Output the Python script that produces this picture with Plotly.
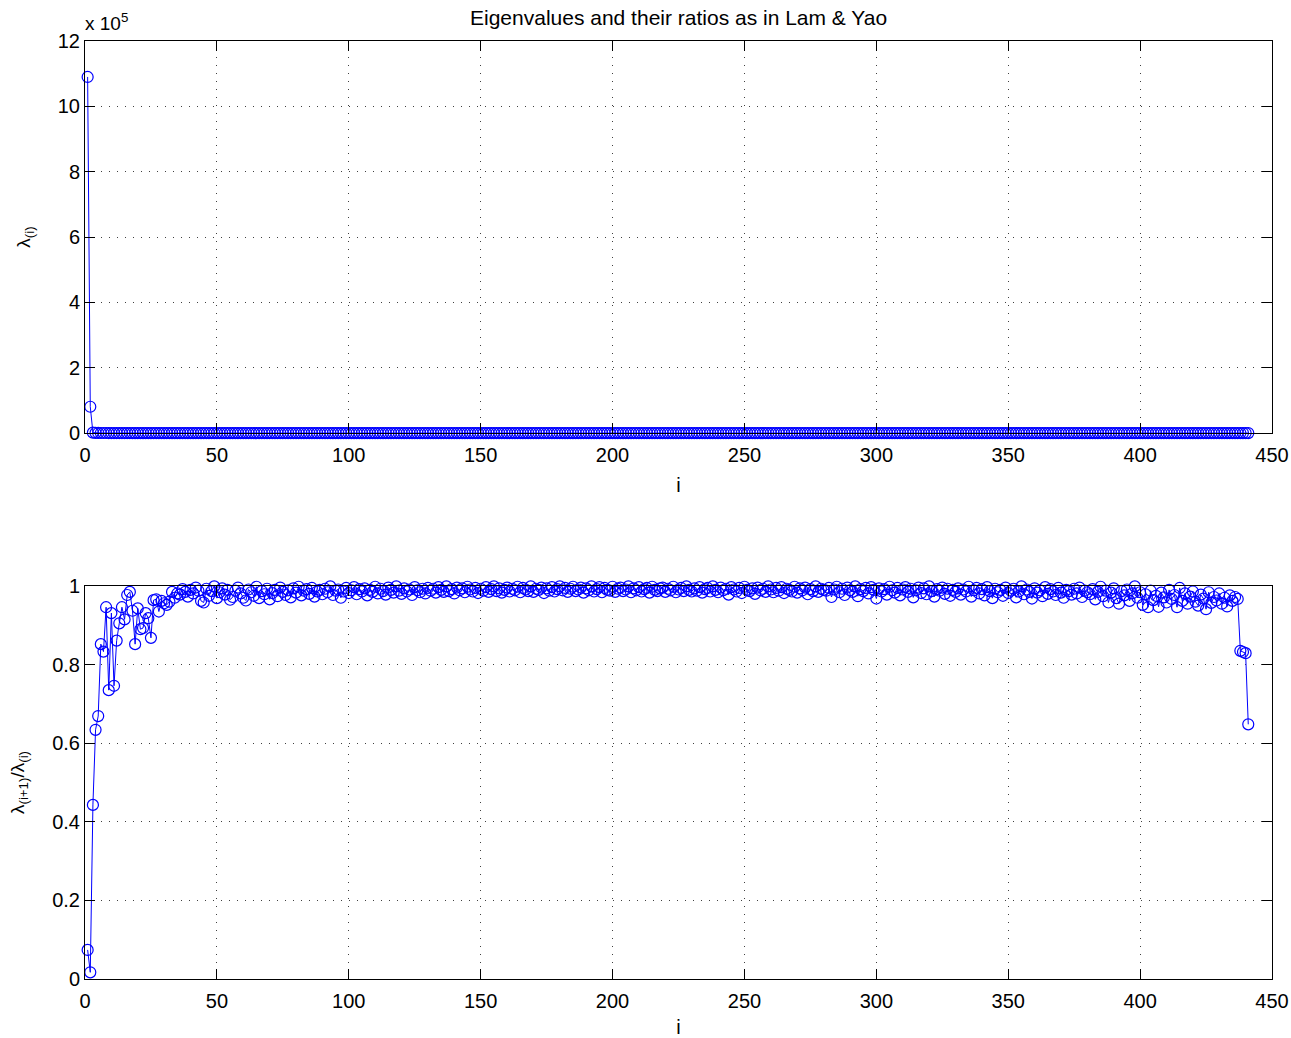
import plotly.graph_objects as go

# Largest eigenvalue and successive ratios lambda(i+1)/lambda(i)
lambda_first = 10.9e5

ratios = [
    # i = 1..35
    0.074, 0.017, 0.443, 0.634, 0.669, 0.852, 0.833, 0.946, 0.735, 0.931,
    0.746, 0.861, 0.905, 0.946, 0.915, 0.977, 0.985, 0.937, 0.852, 0.943,
    0.890, 0.893, 0.931, 0.918, 0.868, 0.964, 0.966, 0.935, 0.962, 0.956,
    0.952, 0.960, 0.985, 0.970, 0.981,
    # i = 36..60
    0.978, 0.992, 0.985, 0.973, 0.990, 0.981, 0.996, 0.988, 0.962, 0.958,
    0.993, 0.975, 0.987, 0.999, 0.969, 0.984, 0.994, 0.978, 0.990, 0.965,
    0.972, 0.988, 0.996, 0.981, 0.970,
    # i = 61..90
    0.963, 0.991, 0.984, 0.975, 0.998, 0.969, 0.987, 0.979, 0.993, 0.966,
    0.982, 0.990, 0.974, 0.996, 0.985, 0.977, 0.989, 0.971, 0.994, 0.983,
    0.998, 0.976, 0.988, 0.992, 0.980, 0.995, 0.973, 0.986, 0.990, 0.979,
    # i = 91..130
    0.993, 0.984, 0.999, 0.977, 0.988, 0.991, 0.970, 0.986, 0.995, 0.982,
    0.989, 0.997, 0.979, 0.992, 0.986, 0.994, 0.976, 0.990, 0.985, 0.998,
    0.981, 0.993, 0.987, 0.978, 0.996, 0.990, 0.983, 0.999, 0.988, 0.980,
    0.994, 0.986, 0.991, 0.977, 0.997, 0.989, 0.984, 0.993, 0.981, 0.995,
    # i = 131..180
    0.988, 0.993, 0.983, 0.997, 0.990, 0.985, 0.999, 0.987, 0.992, 0.981,
    0.996, 0.989, 0.994, 0.984, 0.998, 0.991, 0.986, 0.995, 0.982, 0.993,
    0.988, 0.997, 0.985, 0.992, 0.999, 0.987, 0.994, 0.983, 0.990, 0.996,
    0.986, 0.993, 0.989, 0.998, 0.984, 0.995, 0.991, 0.987, 0.999, 0.985,
    0.993, 0.990, 0.996, 0.982, 0.994, 0.988, 0.997, 0.986, 0.992, 0.999,
    # i = 181..230
    0.989, 0.995, 0.985, 0.993, 0.998, 0.987, 0.991, 0.996, 0.983, 0.994,
    0.989, 0.999, 0.986, 0.992, 0.997, 0.984, 0.995, 0.990, 0.988, 0.998,
    0.985, 0.993, 0.996, 0.987, 0.991, 0.999, 0.984, 0.994, 0.989, 0.997,
    0.986, 0.992, 0.995, 0.983, 0.998, 0.990, 0.987, 0.994, 0.996, 0.985,
    0.993, 0.989, 0.998, 0.984, 0.991, 0.995, 0.987, 0.999, 0.990, 0.986,
    # i = 231..280
    0.994, 0.988, 0.997, 0.983, 0.992, 0.995, 0.986, 0.999, 0.990, 0.984,
    0.996, 0.989, 0.993, 0.978, 0.997, 0.991, 0.986, 0.995, 0.982, 0.998,
    0.990, 0.987, 0.994, 0.980, 0.996, 0.989, 0.993, 0.985, 0.999, 0.991,
    0.984, 0.995, 0.988, 0.997, 0.982, 0.993, 0.990, 0.986, 0.998, 0.983,
    0.994, 0.989, 0.996, 0.979, 0.992, 0.987, 0.999, 0.985, 0.993, 0.990,
    # i = 281..330
    0.988, 0.995, 0.972, 0.991, 0.998, 0.984, 0.993, 0.977, 0.996, 0.989,
    0.985, 0.999, 0.974, 0.992, 0.987, 0.995, 0.981, 0.997, 0.990, 0.968,
    0.994, 0.986, 0.992, 0.978, 0.998, 0.989, 0.983, 0.995, 0.976, 0.991,
    0.997, 0.985, 0.993, 0.971, 0.989, 0.996, 0.982, 0.994, 0.979, 0.999,
    0.987, 0.973, 0.992, 0.988, 0.996, 0.980, 0.993, 0.975, 0.990, 0.985,
    # i = 331..380
    0.994, 0.978, 0.991, 0.986, 0.998, 0.973, 0.989, 0.995, 0.981, 0.992,
    0.976, 0.997, 0.987, 0.969, 0.993, 0.984, 0.990, 0.975, 0.996, 0.982,
    0.988, 0.993, 0.971, 0.986, 0.999, 0.979, 0.991, 0.985, 0.968, 0.994,
    0.983, 0.989, 0.974, 0.997, 0.980, 0.992, 0.986, 0.977, 0.995, 0.983,
    0.970, 0.990, 0.987, 0.978, 0.993, 0.981, 0.996, 0.972, 0.988, 0.984,
    # i = 381..437
    0.979, 0.992, 0.966, 0.985, 0.998, 0.974, 0.988, 0.958, 0.983, 0.994,
    0.969, 0.955, 0.987, 0.976, 0.991, 0.962, 0.981, 0.999, 0.970, 0.984,
    0.952, 0.979, 0.946, 0.988, 0.964, 0.975, 0.947, 0.983, 0.971, 0.958,
    0.990, 0.967, 0.977, 0.946, 0.995, 0.962, 0.981, 0.955, 0.973, 0.986,
    0.960, 0.950, 0.978, 0.968, 0.941, 0.984, 0.957, 0.972, 0.963, 0.981,
    0.955, 0.970, 0.948, 0.976, 0.962, 0.972, 0.967,
    # i = 438..441
    0.835, 0.832, 0.829, 0.648,
]

x_ticks = [0, 50, 100, 150, 200, 250, 300, 350, 400, 450]
y_ticks_top = [0, 2, 4, 6, 8, 10, 12]
y_ticks_bottom = [0, 0.2, 0.4, 0.6, 0.8, 1]

# Eigenvalues follow from the largest one and the successive ratios
eigenvalues = [lambda_first]
for r in ratios[:-1]:
    eigenvalues.append(eigenvalues[-1] * r)

idx_eig = list(range(1, len(eigenvalues) + 1))
idx_ratio = list(range(1, len(ratios) + 1))
scale = 1e5

FONT = "Liberation Sans, Arial, sans-serif"
BLUE = "rgb(0,0,255)"
marker_style = dict(symbol="circle-open", size=11, color=BLUE, line=dict(width=1.2, color=BLUE))

fig = go.Figure()
fig.add_trace(go.Scatter(
    x=idx_eig, y=[v / scale for v in eigenvalues], mode="lines+markers",
    line=dict(color=BLUE, width=1), marker=marker_style,
    xaxis="x", yaxis="y", showlegend=False, cliponaxis=False,
))
fig.add_trace(go.Scatter(
    x=idx_ratio, y=ratios, mode="lines+markers",
    line=dict(color=BLUE, width=1), marker=marker_style,
    xaxis="x2", yaxis="y2", showlegend=False, cliponaxis=False,
))

axis_common = dict(
    showline=True, linecolor="black", linewidth=1, mirror="ticks",
    ticks="inside", ticklen=10, tickcolor="black", tickwidth=1,
    showgrid=True, gridcolor="rgba(0,0,0,0.75)", gridwidth=1, griddash="1px,7px",
    zeroline=False, tickfont=dict(family=FONT, size=20, color="black"),
    automargin=False,
)

fig.update_layout(
    width=1291, height=1038,
    margin=dict(l=85, r=19, t=41, b=59),
    paper_bgcolor="white", plot_bgcolor="white",
    font=dict(family=FONT, color="black"),
    xaxis=dict(domain=[0, 1], range=[0, 450], tickvals=x_ticks, anchor="y",
               ticklabelstandoff=4,
               title=dict(text="i", font=dict(family=FONT, size=20), standoff=12),
               **axis_common),
    yaxis=dict(domain=[0.582, 1], range=[0, 12], tickvals=y_ticks_top, anchor="x",
               title=dict(text="λ<sub>(i)</sub>", font=dict(family=FONT, size=19), standoff=22),
               **axis_common),
    xaxis2=dict(domain=[0, 1], range=[0, 450], tickvals=x_ticks, anchor="y2",
                ticklabelstandoff=4,
                title=dict(text="i", font=dict(family=FONT, size=20), standoff=12),
                **axis_common),
    yaxis2=dict(domain=[0, 0.419], range=[0, 1], tickvals=y_ticks_bottom, anchor="x2",
                tickformat="~g",
                title=dict(text="λ<sub>(i+1)</sub>/λ<sub>(i)</sub>", font=dict(family=FONT, size=19),
                           standoff=22),
                **axis_common),
    annotations=[
        dict(text="Eigenvalues and their ratios as in Lam &amp; Yao", xref="paper", yref="paper",
             x=0.5, y=1, yshift=10, xanchor="center", yanchor="bottom", showarrow=False,
             font=dict(family=FONT, size=21, color="black")),
        dict(text="x 10<sup>5</sup>", xref="paper", yref="paper",
             x=0, y=1, xshift=-2, yshift=5, xanchor="left", yanchor="bottom", showarrow=False,
             font=dict(family=FONT, size=19, color="black")),
    ],
)

fig.write_html("out.html")
